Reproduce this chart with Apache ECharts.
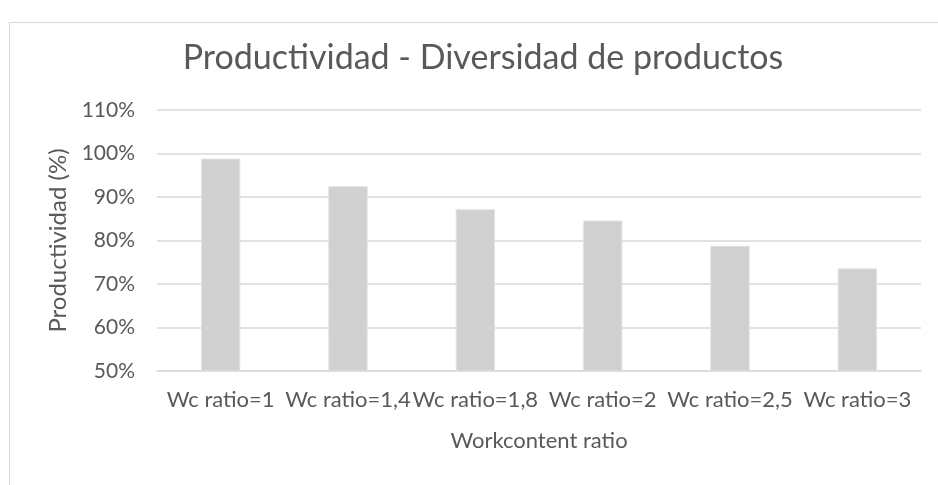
<!DOCTYPE html>
<html>
<head>
<meta charset="utf-8">
<script src="https://cdn.jsdelivr.net/npm/echarts@6/dist/echarts.min.js"></script>
<style>
  html, body { margin: 0; padding: 0; background: #fff; }
  #chart { width: 938px; height: 485px; }
</style>
</head>
<body>
<div id="chart"></div>
<script>
var categories = ['Wc ratio=1', 'Wc ratio=1,4', 'Wc ratio=1,8', 'Wc ratio=2', 'Wc ratio=2,5', 'Wc ratio=3'];
var productividad = [98.85, 92.5, 87.2, 84.6, 78.8, 73.6];
var yTicks = [50, 60, 70, 80, 90, 100, 110];

var ink = '#595959';
var rule = '#d9d9d9';
var font = 'Lato';

var chart = echarts.init(document.getElementById('chart'), null, { renderer: 'canvas' });
chart.setOption({
  animation: false,
  textStyle: { fontFamily: font },
  title: {
    text: 'Productividad - Diversidad de productos',
    left: 478, top: 36, textAlign: 'center',
    textStyle: { color: ink, fontSize: 34, fontWeight: 'normal', fontFamily: font }
  },
  graphic: [{
    type: 'rect', left: 7, top: 20,
    shape: { width: 940, height: 480 },
    style: { fill: 'none', stroke: rule, lineWidth: 1 }
  }],
  grid: { left: 157, right: 17, top: 110, bottom: 114 },
  xAxis: {
    type: 'category',
    data: categories,
    name: 'Workcontent ratio',
    nameLocation: 'middle',
    nameGap: 59,
    nameTextStyle: { color: ink, fontSize: 22, fontFamily: font, verticalAlign: 'top' },
    axisLine: { lineStyle: { color: rule, width: 1.5 } },
    axisTick: { show: false },
    axisLabel: { color: ink, fontSize: 22, interval: 0, margin: 18, fontFamily: font }
  },
  yAxis: {
    type: 'value',
    min: yTicks[0], max: yTicks[yTicks.length - 1], interval: 10,
    name: 'Productividad (%)',
    nameLocation: 'middle',
    nameGap: 93,
    nameTextStyle: { color: ink, fontSize: 24, fontFamily: font, verticalAlign: 'middle' },
    axisLine: { show: false },
    axisTick: { show: false },
    splitLine: { lineStyle: { color: rule, width: 1.5 } },
    axisLabel: { color: ink, fontSize: 21, margin: 22, fontFamily: font, formatter: '{value}%' }
  },
  series: [{
    type: 'bar',
    data: productividad,
    barWidth: '31%',
    itemStyle: { color: '#d0d0d0', borderColor: '#e4e4e4', borderWidth: 1 }
  }]
});
</script>
</body>
</html>
